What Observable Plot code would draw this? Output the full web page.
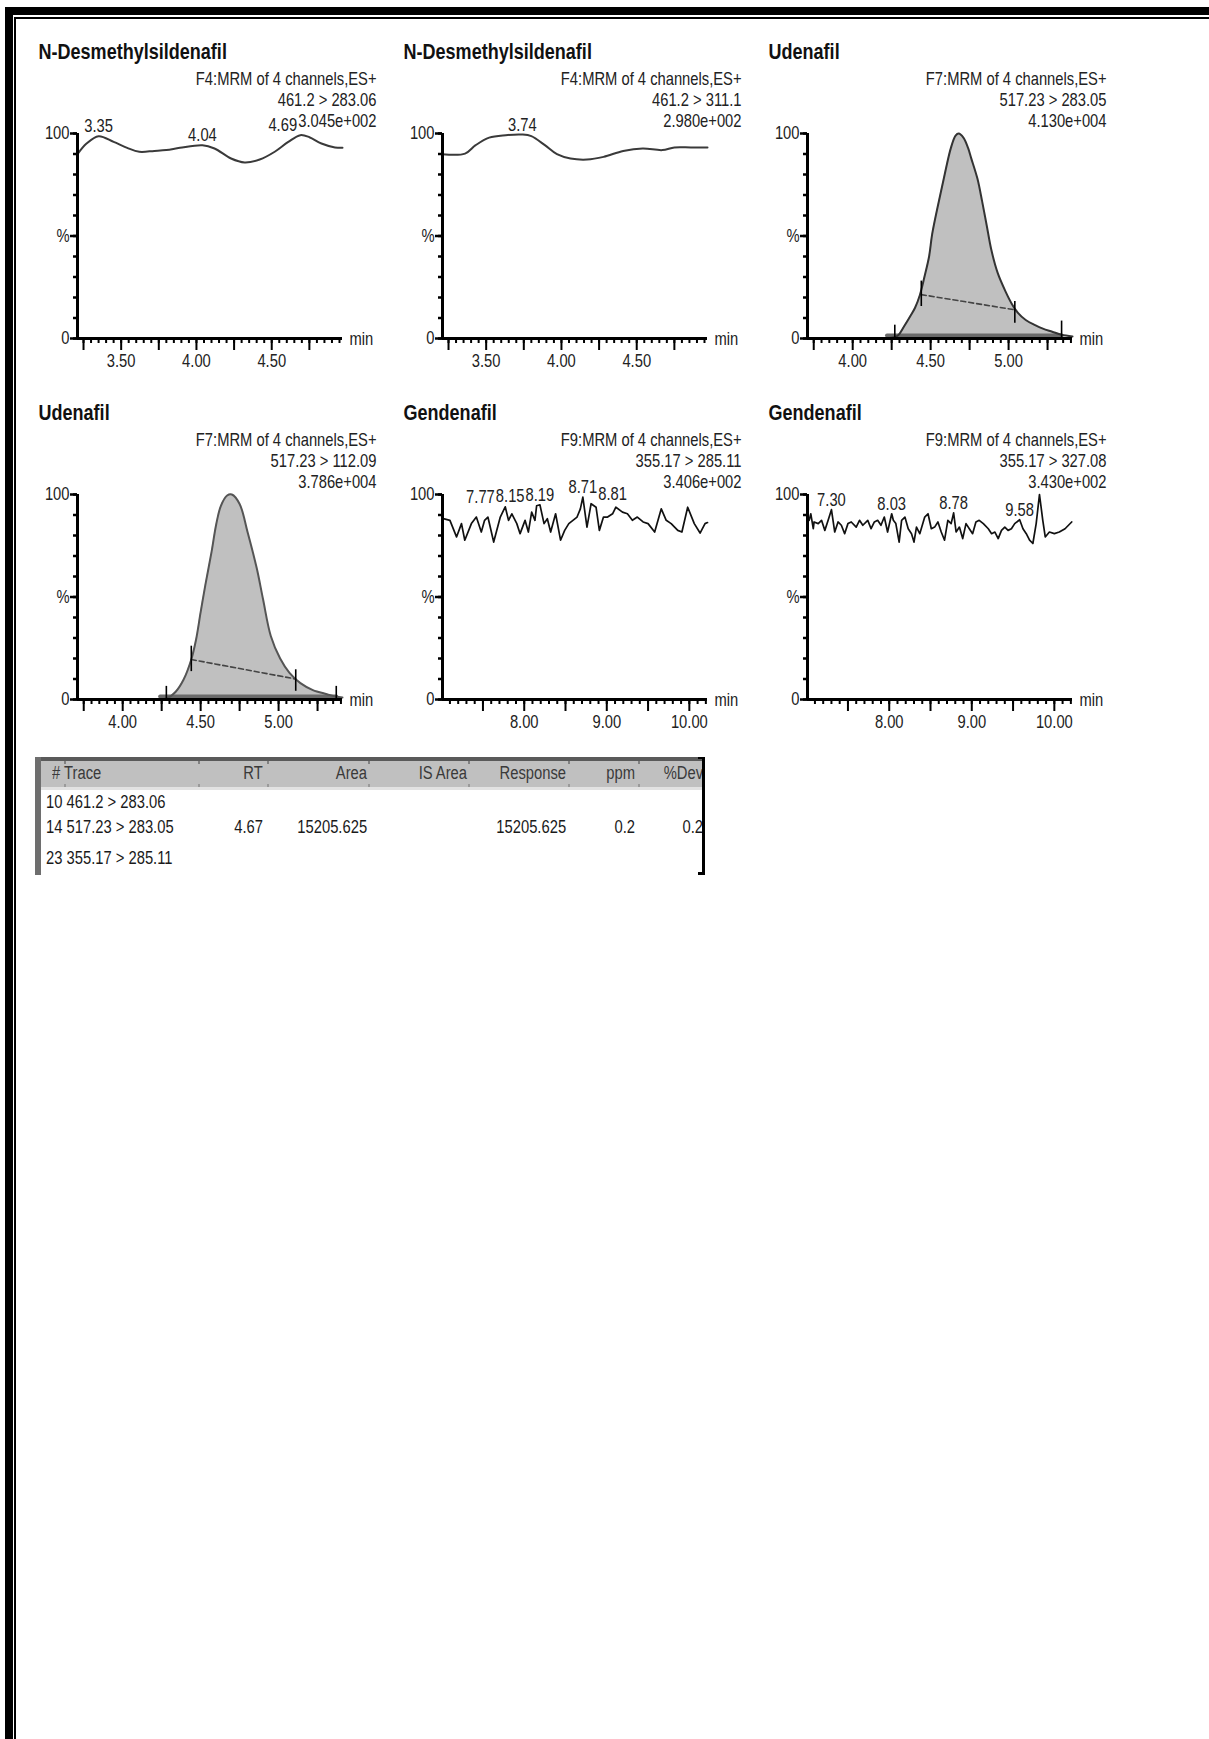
<!DOCTYPE html>
<html>
<head>
<meta charset="utf-8">
<script src="https://cdn.jsdelivr.net/npm/d3@7"></script>
<script src="https://cdn.jsdelivr.net/npm/@observablehq/plot@0.6"></script>
<style>
  html, body { margin: 0; padding: 0; background: #fff; overflow: hidden; }
  #page { position: relative; width: 1209px; height: 1739px; overflow: hidden; background: #fff;
          font-family: "Liberation Sans", Arial, sans-serif; color: #1a1a1a; }
  .bar { position: absolute; background: #000; }
  .panel { position: absolute; }
  .panel svg { overflow: visible; }
  #tbl { position: absolute; left: 35px; top: 757px; width: 670px; height: 118px; overflow: hidden; font-size: 18px; }
  #tbl div { position: absolute; }
  .cell { white-space: nowrap; line-height: 20px; height: 20px; }
</style>
</head>
<body>
<div id="page"></div>
<script>
// ---------------- data ----------------
const titles = ["N-Desmethylsildenafil", "N-Desmethylsildenafil", "Udenafil", "Udenafil", "Gendenafil", "Gendenafil"];
const infoLines = [
  ["F4:MRM of 4 channels,ES+", "461.2 > 283.06", "3.045e+002"],
  ["F4:MRM of 4 channels,ES+", "461.2 > 311.1", "2.980e+002"],
  ["F7:MRM of 4 channels,ES+", "517.23 > 283.05", "4.130e+004"],
  ["F7:MRM of 4 channels,ES+", "517.23 > 112.09", "3.786e+004"],
  ["F9:MRM of 4 channels,ES+", "355.17 > 285.11", "3.406e+002"],
  ["F9:MRM of 4 channels,ES+", "355.17 > 327.08", "3.430e+002"]
];
const domains = [[3.21, 4.97], [3.21, 4.97], [3.71, 5.41], [3.71, 5.41], [7.01, 10.22], [7.01, 10.22]];
const xTickLabels = [[3.5, 4.0, 4.5], [3.5, 4.0, 4.5], [4.0, 4.5, 5.0], [4.0, 4.5, 5.0], [8, 9, 10], [8, 9, 10]];
const yTickLabels = [0, 50, 100];

// panel 1: N-Desmethylsildenafil 461.2 > 283.06
const p1Rt  = [3.21, 3.27, 3.35, 3.45, 3.54, 3.62, 3.72, 3.80, 3.89, 4.04, 4.12, 4.23, 4.32, 4.42, 4.52, 4.61, 4.69, 4.75, 4.83, 4.92, 4.97];
const p1Int = [89.9, 95.1, 98.7, 95.9, 93.0, 91.1, 91.5, 91.9, 93.0, 94.3, 92.7, 87.8, 85.9, 87.3, 91.1, 95.9, 99.2, 98.2, 95.1, 93.2, 93.0];
const p1Peaks = [3.35, 4.04, 4.69];

// panel 2: N-Desmethylsildenafil 461.2 > 311.1
const p2Rt  = [3.21, 3.36, 3.43, 3.52, 3.63, 3.74, 3.80, 3.89, 3.97, 4.06, 4.17, 4.28, 4.41, 4.54, 4.67, 4.75, 4.86, 4.97];
const p2Int = [89.9, 90.2, 94.3, 98.0, 99.2, 99.5, 98.7, 94.3, 89.9, 87.8, 87.3, 88.6, 91.5, 92.7, 91.9, 93.2, 93.2, 93.2];
const p2Peaks = [3.74];

// panel 3: Udenafil 517.23 > 283.05
const p3Rt  = [3.71, 4.20, 4.26, 4.29, 4.33, 4.37, 4.40, 4.43, 4.46, 4.49, 4.51, 4.55, 4.59, 4.63, 4.66, 4.68, 4.71, 4.74, 4.76, 4.80, 4.83, 4.86, 4.89, 4.93, 4.98, 5.02, 5.06, 5.11, 5.17, 5.22, 5.28, 5.34, 5.41];
const p3Int = [0, 0, 0.5, 1.5, 6, 11, 15, 21, 30, 40, 51, 66, 80, 93, 99, 100, 98, 93, 88, 78, 67, 55, 43, 32, 23, 17, 12.5, 9, 6.5, 4.8, 3.3, 1.8, 1];
const p3Span = [4.26, 5.34];
const p3MarkRt = [4.27, 5.34, 4.44, 5.04];
const p3MarkLo = [0, 0, 15.6, 7.4];
const p3MarkHi = [6.5, 8.5, 28, 18];
const p3DashRt = [4.44, 5.04];
const p3DashInt = [21.4, 14];

// panel 4: Udenafil 517.23 > 112.09
const p4Rt  = [3.71, 4.18, 4.28, 4.34, 4.39, 4.44, 4.47, 4.50, 4.53, 4.57, 4.60, 4.63, 4.67, 4.70, 4.75, 4.80, 4.86, 4.90, 4.95, 5.01, 5.07, 5.14, 5.22, 5.31, 5.37, 5.41];
const p4Int = [0, 0, 0.5, 3.8, 9.6, 19.5, 29, 42.6, 55.8, 72, 85.5, 94.5, 99.5, 100, 95.4, 82, 64, 49, 31, 20, 13, 8, 4.6, 2.6, 1.3, 1];
const p4Span = [4.28, 5.37];
const p4MarkRt = [4.28, 5.37, 4.44, 5.11];
const p4MarkLo = [0, 0, 13.6, 4];
const p4MarkHi = [6.4, 6.4, 26, 14.5];
const p4DashRt = [4.44, 5.11];
const p4DashInt = [19.5, 10];

// panel 5: Gendenafil 355.17 > 285.11
const p5Rt  = [7.02, 7.10, 7.18, 7.24, 7.28, 7.36, 7.42, 7.48, 7.52, 7.56, 7.63, 7.71, 7.77, 7.81, 7.85, 7.91, 7.95, 8.01, 8.05, 8.09,
               8.13, 8.15, 8.19, 8.24, 8.28, 8.32, 8.38, 8.44, 8.49, 8.54, 8.59, 8.64, 8.68, 8.71, 8.76, 8.81, 8.87, 8.91, 8.96, 9.01,
               9.07, 9.11, 9.19, 9.25, 9.31, 9.37, 9.44, 9.50, 9.58, 9.66, 9.72, 9.78, 9.86, 9.91, 9.98, 10.06, 10.13, 10.19, 10.22];
const p5Int = [88.2, 87.4, 79.3, 85.8, 77.7, 85.8, 89.0, 81.7, 87.4, 89.0, 76.8, 89.0, 94.0, 87.4, 90.6, 85.8, 80.9, 87.4, 81.7, 91.4,
               87.4, 94.5, 95.0, 85.8, 88.2, 81.7, 90.6, 77.7, 82.5, 85.8, 87.4, 89.0, 93.0, 98.7, 84.1, 95.5, 93.8, 82.5, 89.0, 89.0,
               90.6, 93.8, 91.4, 90.6, 87.4, 89.0, 86.6, 85.8, 81.7, 93.0, 87.4, 85.8, 82.5, 81.7, 93.8, 85.8, 81.2, 85.8, 86.3];
const p5Peaks = [7.77, 8.15, 8.19, 8.71, 8.81];

// panel 6: Gendenafil 355.17 > 327.08
const p6Rt  = [7.03, 7.05, 7.08, 7.09, 7.14, 7.18, 7.22, 7.26, 7.30, 7.34, 7.38, 7.42, 7.46, 7.50, 7.54, 7.60, 7.64, 7.68, 7.74, 7.78,
               7.82, 7.86, 7.90, 7.94, 7.98, 8.03, 8.05, 8.08, 8.12, 8.15, 8.19, 8.23, 8.27, 8.30, 8.33, 8.37, 8.43, 8.47, 8.51, 8.55,
               8.59, 8.63, 8.67, 8.71, 8.75, 8.78, 8.81, 8.85, 8.89, 8.93, 8.97, 9.01, 9.05, 9.09, 9.14, 9.20, 9.24, 9.28, 9.32, 9.36,
               9.40, 9.44, 9.48, 9.52, 9.58, 9.62, 9.66, 9.70, 9.74, 9.78, 9.82, 9.86, 9.89, 9.94, 10.00, 10.06, 10.13, 10.21];
const p6Int = [87.4, 90.6, 83.3, 86.6, 85.8, 87.4, 82.5, 87.4, 92.6, 81.7, 86.6, 85.0, 80.9, 85.8, 86.6, 84.1, 87.4, 85.0, 87.4, 83.3,
               86.6, 87.4, 85.0, 89.0, 81.7, 90.6, 87.4, 85.8, 76.8, 87.4, 89.0, 83.3, 80.9, 76.8, 84.1, 80.9, 89.0, 90.6, 83.3, 84.1,
               86.6, 81.7, 77.7, 87.4, 85.8, 91.0, 81.7, 84.1, 78.5, 85.8, 83.3, 80.9, 86.6, 87.4, 85.8, 83.3, 80.9, 81.7, 78.5, 82.5,
               84.1, 82.5, 83.3, 85.8, 87.7, 83.3, 80.9, 77.7, 76.1, 85.8, 100, 87.4, 79.3, 81.7, 80.9, 81.7, 83.3, 86.6];
const p6Peaks = [7.30, 8.03, 8.78, 9.58];

// results table
const tableHeaders = ["# Trace", "RT", "Area", "IS Area", "Response", "ppm", "%Dev"];
const tableTraces = ["10 461.2 > 283.06", "14 517.23 > 283.05", "23 355.17 > 285.11"];
const tableRT = ["", "4.67", ""];
const tableArea = ["", "15205.625", ""];
const tableISArea = ["", "", ""];
const tableResponse = ["", "15205.625", ""];
const tablePpm = ["", "0.2", ""];
const tableDev = ["", "0.2", ""];

// ---------------- layout ----------------
const FONT = '"Liberation Sans", Arial, sans-serif';
const NARROW = 0.82;                       // horizontal condensing of all text (narrow face look)
const W = 265, H = 205, ML = 50, MR = 45, MT = 100, MB = 45;
const colLeft = [77, 442, 807], rowTop = [133, 494];
const INFO_DY = [-54, -33, -12];
const page = document.getElementById("page");

// page frame (double rule, top and left)
[[5, 7, 1204, 8], [14, 17, 1195, 2], [5, 7, 8, 1732], [14, 17, 2, 1722]].forEach(([l, t, w, h]) => {
  const d = document.createElement("div"); d.className = "bar";
  Object.assign(d.style, {left: l + "px", top: t + "px", width: w + "px", height: h + "px"});
  page.appendChild(d);
});

const cvs = document.createElement("canvas").getContext("2d");
function measure(text, size, weight) {
  cvs.font = `${weight || "normal"} ${size}px ${FONT}`;
  return cvs.measureText(text).width * NARROW;
}

// peak labels: keep them from overlapping each other and the intensity line
function placeLabels(domain, peaks, data, intensityText) {
  const [d0, d1] = domain, kx = W / (d1 - d0), ky = H / 100;
  const wI = measure(intensityText, 18);
  const boxes = [{x0: W + 34 - wI, x1: W + 34, y0: INFO_DY[2] - 8, y1: INFO_DY[2] + 8}];
  const labels = peaks.map(t => ({t, v: data.find(d => Math.abs(d.t - t) < 1e-9).v, label: t.toFixed(2)}));
  labels.sort((a, b) => b.v - a.v);
  for (const L of labels) {
    const w = measure(L.label, 18);
    let cx = (L.t - d0) * kx;
    const y1 = (100 - L.v) * ky - 4, y0 = y1 - 13;
    for (let k = 0; k < 20; k++) {
      const hit = boxes.find(b => cx - w / 2 < b.x1 && cx + w / 2 > b.x0 && y0 < b.y1 && y1 > b.y0);
      if (!hit) break;
      cx = cx <= (hit.x0 + hit.x1) / 2 ? hit.x0 - w / 2 - 1 : hit.x1 + w / 2 + 1;
    }
    boxes.push({x0: cx - w / 2, x1: cx + w / 2, y0, y1});
    L.x = d0 + cx / kx;
  }
  return labels;
}

function ticksEvery(domain, step) {
  const [d0, d1] = domain;
  return d3.range(Math.ceil(d0 / step - 1e-6), Math.floor(d1 / step + 1e-6) + 1).map(i => +(i * step).toFixed(3));
}

function condense(svg) {
  svg.querySelectorAll("text").forEach(t => {
    const tr = t.getAttribute("transform");
    if (tr) t.setAttribute("transform", tr + ` scale(${NARROW},1)`);
    else {
      const x = +(t.getAttribute("x") || 0), y = +(t.getAttribute("y") || 0);
      t.setAttribute("x", 0); t.setAttribute("y", 0);
      t.setAttribute("transform", `translate(${x},${y}) scale(${NARROW},1)`);
    }
  });
}

const panels = [
  {rt: p1Rt, v: p1Int, peaks: p1Peaks, minor: 0.05, major: 0.25, stroke: "#3a3a3a", sw: 2, curve: "catmull-rom"},
  {rt: p2Rt, v: p2Int, peaks: p2Peaks, minor: 0.05, major: 0.25, stroke: "#3a3a3a", sw: 2, curve: "catmull-rom"},
  {rt: p3Rt, v: p3Int, peaks: [], minor: 0.05, major: 0.25, stroke: "#333", sw: 2, curve: "catmull-rom",
   span: p3Span, markRt: p3MarkRt, markLo: p3MarkLo, markHi: p3MarkHi, dashRt: p3DashRt, dashInt: p3DashInt},
  {rt: p4Rt, v: p4Int, peaks: [], minor: 0.05, major: 0.25, stroke: "#555", sw: 2, curve: "catmull-rom",
   span: p4Span, markRt: p4MarkRt, markLo: p4MarkLo, markHi: p4MarkHi, dashRt: p4DashRt, dashInt: p4DashInt},
  {rt: p5Rt, v: p5Int, peaks: p5Peaks, minor: 0.1, major: 0.5, stroke: "#111", sw: 1.7, curve: "linear"},
  {rt: p6Rt, v: p6Int, peaks: p6Peaks, minor: 0.1, major: 0.5, stroke: "#111", sw: 1.7, curve: "linear"}
];

panels.forEach((cfg, i) => {
  const domain = domains[i];
  const data = cfg.rt.map((t, j) => ({t, v: cfg.v[j]}));
  const labels = placeLabels(domain, cfg.peaks, data, infoLines[i][2]);
  const marks = [];
  if (cfg.span) {
    marks.push(Plot.areaY(data.filter(d => d.t >= cfg.span[0] - 1e-9 && d.t <= cfg.span[1] + 1e-9),
      {x: "t", y: "v", fill: "#c0c0c0", curve: cfg.curve}));
    marks.push(Plot.line([{t: cfg.span[0] - 0.04, v: 0}, {t: cfg.span[1], v: 0}],
      {x: "t", y: "v", stroke: "#6a6a6a", strokeWidth: 4, dy: -3}));
  }
  marks.push(Plot.line(data, {x: "t", y: "v", stroke: cfg.stroke, strokeWidth: cfg.sw, curve: cfg.curve}));
  if (cfg.markRt) {
    const dash = cfg.dashRt.map((t, j) => ({t, v: cfg.dashInt[j]}));
    marks.push(Plot.line(dash, {x: "t", y: "v", stroke: "#444", strokeWidth: 1.6, strokeDasharray: "5,3"}));
    const m = cfg.markRt.map((t, j) => ({t, lo: cfg.markLo[j], hi: cfg.markHi[j]}));
    marks.push(Plot.ruleX(m, {x: "t", y1: "lo", y2: "hi", stroke: "#000", strokeWidth: 1.6}));
  }
  marks.push(
    Plot.axisX({ticks: ticksEvery(domain, cfg.minor), tickSize: 5, strokeWidth: 2, stroke: "#000", tickFormat: () => ""}),
    Plot.axisX({ticks: ticksEvery(domain, cfg.major), tickSize: 12, strokeWidth: 2, stroke: "#000", tickFormat: () => ""}),
    Plot.axisX({ticks: xTickLabels[i], tickSize: 0, tickPadding: 16, fontSize: 18, fill: "#222", tickFormat: d => d.toFixed(2)}),
    Plot.axisY({ticks: d3.range(0, 101, 10), tickSize: 4, strokeWidth: 2.5, stroke: "#000", tickFormat: () => ""}),
    Plot.axisY({ticks: yTickLabels, tickSize: 7, strokeWidth: 2.5, stroke: "#000", tickPadding: 1, fontSize: 18, fill: "#222",
      tickFormat: d => d === 50 ? "%" : String(d)}),
    Plot.ruleX([domain[0]], {stroke: "#000", strokeWidth: 3}),
    Plot.ruleY([0], {stroke: "#000", strokeWidth: 3}),
    Plot.text([titles[i]], {frameAnchor: "top-left", textAnchor: "start", lineAnchor: "middle", dx: -39, dy: -82,
      fontSize: 22, fontWeight: "bold", fill: "#111"}),
    ...infoLines[i].map((s, k) => Plot.text([s], {frameAnchor: "top-right", textAnchor: "end", lineAnchor: "middle",
      dx: 34, dy: INFO_DY[k], fontSize: 18, fill: "#222"})),
    Plot.text(["min"], {frameAnchor: "bottom-right", textAnchor: "start", lineAnchor: "middle", dx: 7, dy: 1, fontSize: 18, fill: "#222"}),
    Plot.text(labels, {x: "x", y: "v", text: "label", lineAnchor: "bottom", dy: -4, fontSize: 18, fill: "#222"})
  );
  const svg = Plot.plot({
    width: ML + W + MR, height: MT + H + MB,
    marginLeft: ML, marginRight: MR, marginTop: MT, marginBottom: MB,
    x: {domain, label: null},
    y: {domain: [0, 100], label: null},
    style: {fontFamily: FONT, fontSize: "18px", color: "#1a1a1a", background: "transparent", overflow: "visible"},
    marks
  });
  condense(svg);
  const holder = document.createElement("div");
  holder.className = "panel";
  holder.style.left = (colLeft[i % 3] - ML) + "px";
  holder.style.top = (rowTop[Math.floor(i / 3)] - MT) + "px";
  holder.appendChild(svg);
  page.appendChild(holder);
});

// ---------------- table ----------------
const tbl = document.createElement("div");
tbl.id = "tbl";
page.appendChild(tbl);
function box(l, t, w, h, bg) {
  const d = document.createElement("div");
  Object.assign(d.style, {left: l + "px", top: t + "px", width: w + "px", height: h + "px", background: bg});
  tbl.appendChild(d);
}
box(6, 4, 661, 26, "#c0c0c0");
box(6, 30, 661, 3, "#e2e2e2");
box(0, 0, 667, 4, "#5a5a5a");
box(0, 0, 6, 118, "#6e6e6e");
[29, 163, 232, 333, 433, 533, 603].forEach(x => { box(x, 4, 2, 3, "#808080"); box(x, 27, 2, 3, "#9a9a9a"); });

const colRight = [null, 228, 332, 432, 531, 600, 668];
function cell(text, y, col, isHeader) {
  const d = document.createElement("div");
  d.className = "cell";
  d.textContent = text;
  d.style.top = (y - 10) + "px";
  d.style.color = isHeader ? "#3a3a3a" : "#1a1a1a";
  if (col === 0) { d.style.left = (isHeader ? 17 : 11) + "px"; d.style.transformOrigin = "left center"; }
  else { d.style.right = (670 - colRight[col]) + "px"; d.style.transformOrigin = "right center"; }
  d.style.transform = `scaleX(${NARROW})`;
  tbl.appendChild(d);
}
tableHeaders.forEach((h, c) => cell(h, 16, c, true));
const rowY = [45, 70, 101];
const cols = [tableTraces, tableRT, tableArea, tableISArea, tableResponse, tablePpm, tableDev];
rowY.forEach((y, r) => cols.forEach((col, c) => { if (col[r]) cell(col[r], y, c, false); }));

box(667, 0, 3, 117, "#000");
box(663, 0, 7, 2, "#000");
box(663, 115, 7, 3, "#000");
</script>
</body>
</html>
